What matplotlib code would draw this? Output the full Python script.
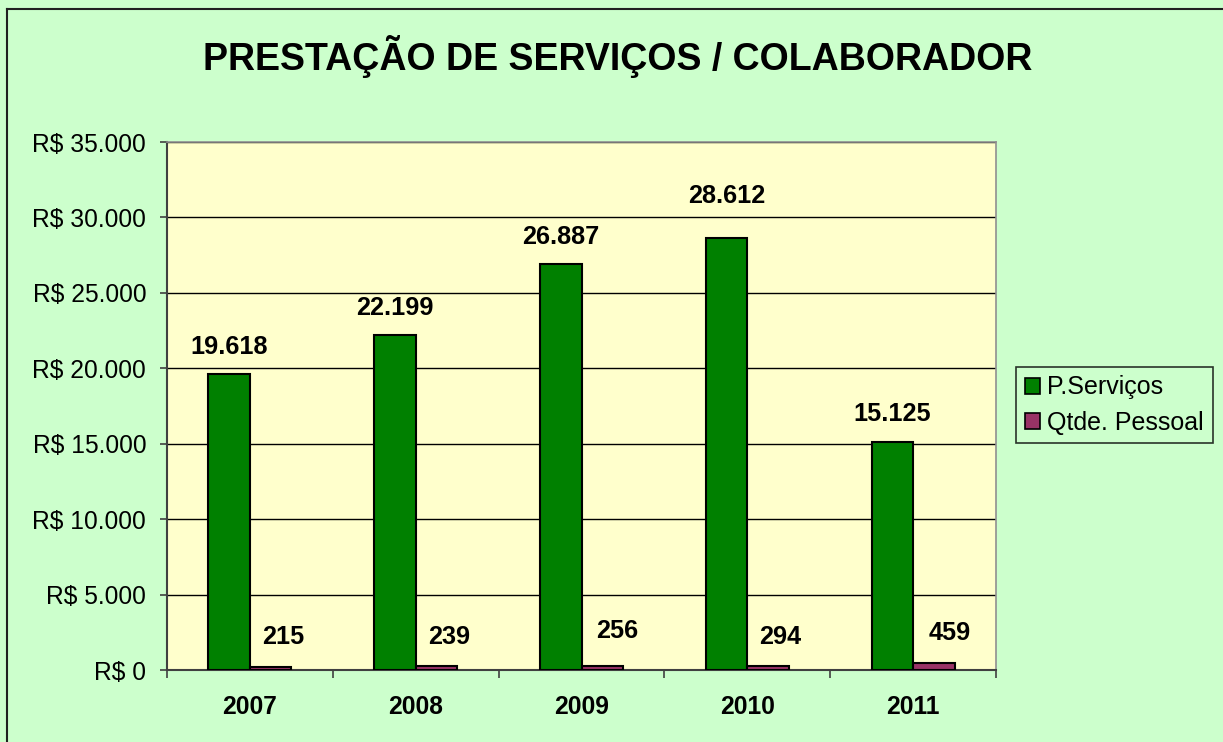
import matplotlib
matplotlib.use("Agg")
import matplotlib.pyplot as plt
from matplotlib.lines import Line2D
from matplotlib.patches import Patch
from matplotlib.ticker import FuncFormatter, FixedLocator
import numpy as np

plt.rcParams['font.family'] = ['Liberation Sans', 'DejaVu Sans']

years = ["2007", "2008", "2009", "2010", "2011"]
servicos = [19618, 22199, 26887, 28612, 15125]
pessoal = [215, 239, 256, 294, 459]
series_names = ["P.Serviços", "Qtde. Pessoal"]
title = "PRESTAÇÃO DE SERVIÇOS / COLABORADOR"

# label offsets (pixels) – style only
green_dy = [27, 27, 27, 42, 28]
purple_dx = [13, 13, 15, 12, 16]
purple_dy = [30, 29, 35, 29, 30]

W, H = 1223, 742
fig = plt.figure(figsize=(W / 100, H / 100), dpi=100, facecolor="#CCFFCC")
ax = fig.add_axes([167 / W, 1 - 670 / H, (996 - 167) / W, (670 - 142) / H])
ax.set_facecolor("#FFFFCC")

x = np.arange(len(years))
bw = 0.25
b1 = ax.bar(x - bw / 2, servicos, bw, color="#008000", edgecolor="black", linewidth=1.5, zorder=3)
b2 = ax.bar(x + bw / 2, pessoal, bw, color="#993366", edgecolor="black", linewidth=1.5, zorder=3)

def fmt(v):
    return f"{int(v):,}".replace(",", ".")

for i, (r, v) in enumerate(zip(b1, servicos)):
    ax.annotate(fmt(v), (r.get_x() + r.get_width() / 2, v), xytext=(0, green_dy[i]),
                textcoords="offset pixels", ha="center", va="center",
                fontsize=18.2, fontweight="bold", zorder=5)
for i, (r, v) in enumerate(zip(b2, pessoal)):
    ax.annotate(fmt(v), (r.get_x() + r.get_width() / 2, v), xytext=(purple_dx[i], purple_dy[i]),
                textcoords="offset pixels", ha="center", va="center",
                fontsize=18.2, fontweight="bold", zorder=5)

ax.set_xlim(-0.5, len(years) - 0.5)
ax.set_ylim(0, 35000)
ax.yaxis.set_major_locator(FixedLocator(np.arange(0, 35001, 5000)))
ax.yaxis.set_major_formatter(FuncFormatter(lambda v, p: "R$ " + fmt(v)))
ax.grid(axis="y", color="black", linewidth=1.0, zorder=1)

ax.set_xticks(x)
ax.set_xticklabels(years, fontsize=17.7, fontweight="bold")
ax.set_xticks(np.arange(-0.5, len(years)), minor=True)
ax.tick_params(axis="x", which="major", length=0, pad=18)
ax.tick_params(axis="x", which="minor", length=6, width=1.2, color="#404040")
ax.tick_params(axis="y", length=5, width=1.2, color="#404040", pad=10, labelsize=17.7)

for s in ["top", "right"]:
    ax.spines[s].set_color("#909090")
    ax.spines[s].set_linewidth(1.2)
for s in ["left", "bottom"]:
    ax.spines[s].set_color("#404040")
    ax.spines[s].set_linewidth(1.5)

fig.text(0.505, 1 - 57 / H, title, ha="center", va="center", fontsize=27, fontweight="bold")

handles = [Patch(facecolor="#008000", edgecolor="black", linewidth=1.2),
           Patch(facecolor="#993366", edgecolor="black", linewidth=1.2)]
leg = fig.legend(handles, series_names, loc="center left",
                 bbox_to_anchor=(1016 / W, 1 - 405 / H), fontsize=18,
                 frameon=True, fancybox=False, handlelength=0.6, handleheight=0.6,
                 handletextpad=0.3, borderpad=0.35, labelspacing=0.45, borderaxespad=0)
leg.get_frame().set_edgecolor("black")
leg.get_frame().set_facecolor("none")
leg.get_frame().set_linewidth(1.2)

fig.add_artist(Line2D([7 / W, 1.0], [1 - 9 / H, 1 - 9 / H], color="#202020", linewidth=1.5, transform=fig.transFigure))
fig.add_artist(Line2D([7 / W, 7 / W], [1 - 9 / H, 0], color="#202020", linewidth=1.5, transform=fig.transFigure))

fig.savefig("out.png", dpi=100, facecolor=fig.get_facecolor())
